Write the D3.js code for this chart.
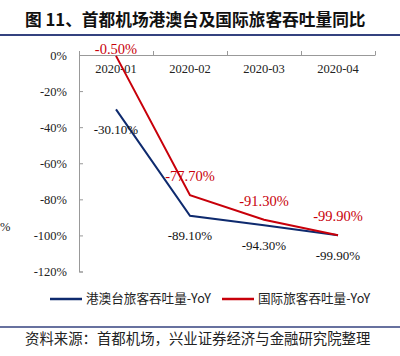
<!DOCTYPE html>
<html><head><meta charset="utf-8">
<script src="https://cdn.jsdelivr.net/npm/d3@7"></script>
<style>
html,body{margin:0;padding:0;background:#fff;}
svg{display:block;}
</style></head>
<body>
<svg id="c" width="400" height="356"></svg>
<script>
const categories = ["2020-01","2020-02","2020-03","2020-04"];
const hkmtYoY = [-30.1, -89.1, -94.3, -99.9];
const intlYoY = [-0.5, -77.7, -91.3, -99.9];
const yTicks = [0,-20,-40,-60,-80,-100,-120];
const seriesNames = ["港澳台旅客吞吐量-YoY","国际旅客吞吐量-YoY"];
const title = "图 11、首都机场港澳台及国际旅客吞吐量同比";
const source = "资料来源：首都机场，兴业证券经济与金融研究院整理";

const svg = d3.select("#c");
const serif = "'Liberation Serif','Times New Roman',serif";
const cjk = "'Noto Sans CJK SC','Noto Sans',sans-serif";
const blue = "#0E2A6E", red = "#C8000A";

// title
svg.append("text").attr("x",25).attr("y",26).attr("font-family",cjk).attr("font-weight","bold")
  .attr("font-size",16.7).attr("fill","#111").text(title);
svg.append("line").attr("x1",0).attr("x2",400).attr("y1",35).attr("y2",35)
  .attr("stroke","#34427f").attr("stroke-width",2);

const x = d3.scaleBand().domain(categories).range([79,375]).padding(0);
const xEdge = d3.scaleLinear().domain([0,categories.length]).range([79,375]);
const y = d3.scaleLinear().domain([-120,0]).range([271.5,55]);

// y axis
const ya = svg.append("g").attr("transform","translate(79,0)")
  .call(d3.axisLeft(y).tickValues(yTicks).tickSize(-4).tickPadding(12).tickFormat(d=>d+"%"));
ya.select(".domain").attr("stroke","#999");
ya.selectAll(".tick line").attr("stroke","#999");
ya.selectAll("text").attr("font-family",serif).attr("font-size",12.5).attr("fill","#222");

// x axis line with ticks at band edges (upward)
const xa = svg.append("g").attr("transform","translate(0,"+y(0)+")")
  .call(d3.axisTop(xEdge).tickValues(d3.range(categories.length+1)).tickSize(4).tickSizeOuter(0).tickFormat(""));
xa.select(".domain").attr("stroke","#999");
xa.selectAll(".tick line").attr("stroke","#999");
// category labels below the axis
const xl = svg.append("g").attr("transform","translate(0,"+y(0)+")")
  .call(d3.axisBottom(x).tickSize(0).tickPadding(9));
xl.select(".domain").remove();
xl.selectAll("text").attr("font-family",serif).attr("font-size",12.5).attr("fill","#222");

// lines
const line = d3.line().x((d,i)=>x(categories[i])+x.bandwidth()/2).y(d=>y(d));
svg.append("path").datum(hkmtYoY).attr("d",line).attr("fill","none").attr("stroke",blue).attr("stroke-width",2);
svg.append("path").datum(intlYoY).attr("d",line).attr("fill","none").attr("stroke",red).attr("stroke-width",2);

// labels
const fmt = v => v.toFixed(2)+"%";
svg.append("g").selectAll("text").data(hkmtYoY).join("text")
  .attr("x",(d,i)=>x(categories[i])+x.bandwidth()/2).attr("y",d=>y(d)+20)
  .attr("dy","0.35em").attr("text-anchor","middle").attr("font-family",serif).attr("font-size",13)
  .attr("fill","#111").text(fmt);
svg.append("g").selectAll("text").data(intlYoY).join("text")
  .attr("x",(d,i)=>x(categories[i])+x.bandwidth()/2).attr("y",d=>Math.max(y(d)-19,49))
  .attr("dy","0.35em").attr("text-anchor","middle").attr("font-family",serif).attr("font-size",14.5)
  .attr("fill",red).text(fmt);

// stray partial label at left edge
svg.append("text").attr("x",0).attr("y",227).attr("dy","0.35em").attr("text-anchor","start")
  .attr("font-family",serif).attr("font-size",12.5).attr("fill","#222").text("%");

// legend
const lg = svg.append("g");
const legendItems = [{name:seriesNames[0],c:blue,x:50},{name:seriesNames[1],c:red,x:222}];
legendItems.forEach(it=>{
  lg.append("line").attr("x1",it.x).attr("x2",it.x+32).attr("y1",299).attr("y2",299).attr("stroke",it.c).attr("stroke-width",2.5);
  lg.append("text").attr("x",it.x+36).attr("y",299).attr("dy","0.35em").attr("font-family",cjk)
    .attr("font-size",12.6).attr("fill","#222").text(it.name);
});

// bottom rule and source
svg.append("line").attr("x1",0).attr("x2",400).attr("y1",327).attr("y2",327)
  .attr("stroke","#34427f").attr("stroke-width",1.5);
svg.append("text").attr("x",25).attr("y",339).attr("dy","0.35em").attr("font-family",cjk)
  .attr("font-size",14.4).attr("fill","#222").text(source);
</script>
</body></html>
